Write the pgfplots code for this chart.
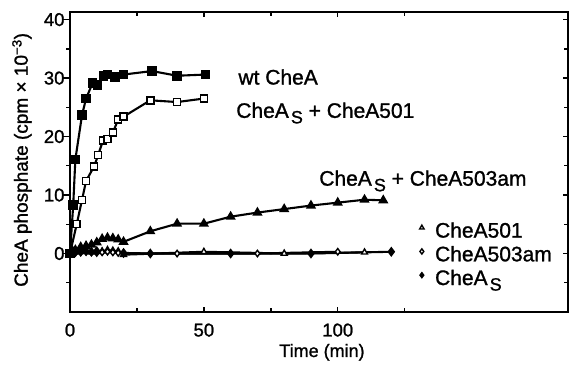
\documentclass[border=0pt]{standalone}
\usepackage{fontspec}
\setmainfont{Liberation Sans}[FakeBold=1.2]
\usepackage{graphicx}
\usepackage{pgfplots}
\pgfplotsset{compat=1.18}
\newcommand{\subS}{\hspace{0.1em}\raisebox{-0.5ex}{\scalebox{0.85}{S}}}
\newcommand{\ann}{\fontsize{21}{23}\selectfont}
\newcommand{\tck}{\fontsize{18.5}{20}\selectfont}
\begin{document}
\begin{tikzpicture}
\pgfplotsset{
  base/.style={at={(0,0)}, anchor=south west, scale only axis,
    width=498pt, height=300pt, xmin=0, xmax=186, ymin=-10, ymax=41.3,
    xtick={0,50,100}, minor xtick={25,75,125},
    ytick={0,10,20,30,40}, minor ytick={-5,5,15,25,35},
    every tick/.style={black, line width=1.4pt},
    every minor tick/.style={black, line width=1.4pt}},
}
% left outward ticks
\begin{axis}[base, axis x line=none, axis y line*=left,
  axis line style={line width=1.8pt, -},
  tick align=outside, ytick pos=left, yticklabels={},
  major tick length=8pt, minor tick length=4pt]
\end{axis}
\begin{axis}[base,
  axis line style={line width=1.8pt},
  tick align=inside, ytick pos=right, yticklabel pos=left,
  xtick pos=both, xticklabel pos=bottom,
  major tick length=5pt, minor tick length=4pt,
  /pgf/number format/assume math mode=true,
  ticklabel style={font=\tck},
  yticklabel style={xshift=-2pt},
  xticklabel style={yshift=-8pt},
  xlabel={Time (min)},
  xlabel style={font=\fontsize{18}{20}\selectfont, at={(axis description cs:0.506,-0.15)}, anchor=base},
  ylabel={CheA phosphate (cpm \texttimes\ 10\textsuperscript{\char"2212 3})},
  ylabel style={font=\fontsize{19}{21}\selectfont, at={(axis description cs:-0.0965,0.507)}, anchor=center},
  legend cell align=left,
  legend style={at={(axis cs:130.5,5.7)}, anchor=north west, draw=none, fill=none,
    font=\ann, row sep=3pt, inner sep=0pt,
    /tikz/every odd column/.append style={column sep=9pt}},
  legend image code/.code={\draw[#1] plot coordinates {(0pt,0.3em)};},
]
% legend images
\addlegendimage{only marks, mark=triangle, mark size=2.6pt, line width=1.4pt, mark options={fill=white}}
\addlegendentry{CheA501}
\addlegendimage{only marks, mark=diamond, mark size=2.6pt, line width=1.4pt, mark options={fill=white}}
\addlegendentry{CheA503am}
\addlegendimage{only marks, mark=diamond*, mark size=2.8pt, line width=1pt}
\addlegendentry{CheA\subS}

% CheA501 (open triangles)
\addplot[forget plot, black, line width=2.1pt, mark=triangle*, mark size=3.4pt,
  mark options={fill=white, line width=1.4pt}] coordinates {
(0,0) (2,0.2) (4,0.3) (6,0.3) (8,0.2) (10,0.3) (12,0.4) (14,0.6) (16,0.5) (18,0.4) (20,-0.2) (50,0.3) (80,0) (110,0.2)};
% CheA503am (open diamonds)
\addplot[forget plot, black, line width=2.1pt, mark=diamond*, mark size=3.2pt,
  mark options={fill=white, line width=1.4pt}] coordinates {
(0,0) (2,0.1) (4,0.2) (6,0.3) (8,0.2) (10,0.1) (12,0.2) (14,0.3) (16,0.2) (18,0.1) (20,0) (40,0) (70,0) (100,0.3)};
% CheA_S (filled diamonds)
\addplot[forget plot, black, line width=2.1pt, mark=diamond*, mark size=3.4pt,
  mark options={fill=black}] coordinates {
(0,0) (2,0.3) (4,0.3) (6,0.4) (8,0.3) (10,0.4) (20,0.1) (30,0) (60,0) (90,0) (120,0.3)};
% CheA_S + CheA503am (filled triangles)
\addplot[forget plot, black, line width=2.1pt, mark=triangle*, mark size=3.8pt,
  mark options={fill=black}] coordinates {
(0,0) (1,0.4) (2,0.6) (4,1.1) (6,1.3) (8,1.5) (10,1.9) (12,2.5) (14,2.7) (16,2.6) (18,2.4) (20,2.0)
(30,3.8) (40,5.1) (50,5.1) (60,6.3) (70,7.0) (80,7.6) (90,8.2) (100,8.7) (110,9.2) (117,9.1)};
% CheA_S + CheA501 (open squares)
\addplot[forget plot, black, line width=2.1pt, mark=square*, mark size=3.5pt,
  mark options={fill=white, line width=1.4pt}] coordinates {
(0,0) (2.5,5) (4.5,9.2) (6,12.4) (9,14.9) (10.5,16.8) (12.3,19.3) (14,19.6) (16,20.7) (18,22.9) (20,23.4)
(30,26.2) (40,25.9) (50,26.5)};
% wt CheA (filled squares)
\addplot[forget plot, black, line width=2.1pt, mark=square*, mark size=3.8pt,
  mark options={fill=black}] coordinates {
(0,0) (1.2,8.3) (2,16.1) (4.5,23.7) (6,26.5) (8.4,29.1) (10.3,28.8) (12.5,30.3) (14,30.6) (16.8,30.2) (20,30.6)
(30.6,31.2) (40,30.4) (50.6,30.6)};

\node[anchor=base west, font=\ann] at (axis cs:61.6,28.9) {wt CheA};
\node[anchor=base west, font=\ann] at (axis cs:60.8,23.2) {CheA\subS\ + CheA501};
\node[anchor=base west, font=\ann] at (axis cs:91.8,11.6) {CheA\subS\ + CheA503am};
\end{axis}
\pgfresetboundingbox
\path[use as bounding box] (-70pt,-54pt) rectangle (499pt,312pt);
\end{tikzpicture}
\end{document}
